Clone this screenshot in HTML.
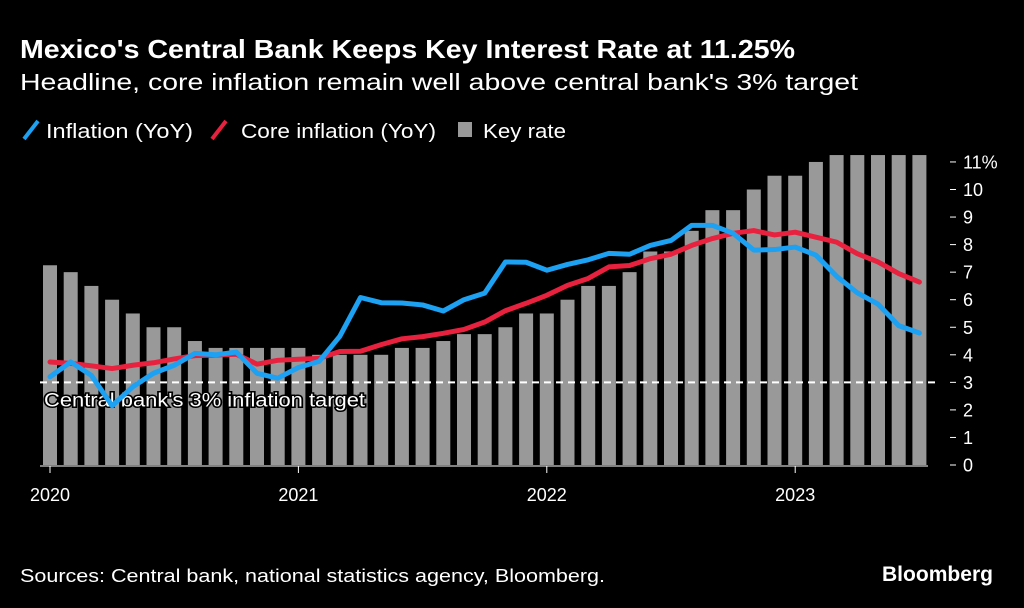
<!DOCTYPE html>
<html><head><meta charset="utf-8"><style>
html,body{margin:0;padding:0;background:#000;width:1024px;height:608px;overflow:hidden}
svg{display:block;font-family:"Liberation Sans",Arial,sans-serif}
</style></head><body>
<svg id="chart" width="1024" height="608" viewBox="0 0 1024 608">
<text x="20" y="58" fill="#fff" font-size="26" font-weight="bold" textLength="775" lengthAdjust="spacingAndGlyphs">Mexico's Central Bank Keeps Key Interest Rate at 11.25%</text>
<text x="20" y="90" fill="#fff" font-size="23" textLength="838" lengthAdjust="spacingAndGlyphs">Headline, core inflation remain well above central bank's 3% target</text>
<g>
<g><line x1="24" y1="139" x2="38" y2="121" stroke="#1da1f2" stroke-width="4"/><text x="46" y="138" fill="#fff" font-size="20" textLength="147" lengthAdjust="spacingAndGlyphs">Inflation (YoY)</text></g>
<g><line x1="212" y1="139" x2="226" y2="121" stroke="#e8213f" stroke-width="4"/><text x="241" y="138" fill="#fff" font-size="20" textLength="195" lengthAdjust="spacingAndGlyphs">Core inflation (YoY)</text></g>
<g><rect x="458" y="122" width="14" height="15" fill="#999"/><text x="483" y="138" fill="#fff" font-size="20" textLength="83" lengthAdjust="spacingAndGlyphs">Key rate</text></g>
</g>
<g id="plot"></g>
<text x="20" y="582" fill="#fff" font-size="18" textLength="585" lengthAdjust="spacingAndGlyphs">Sources: Central bank, national statistics agency, Bloomberg.</text>
<text x="882" y="581" fill="#fff" font-size="21" font-weight="bold" textLength="111" lengthAdjust="spacingAndGlyphs">Bloomberg</text>
</svg>
<script>
const keyRate=[7.25,7.0,6.5,6.0,5.5,5.0,5.0,4.5,4.25,4.25,4.25,4.25,
4.25,4.0,4.0,4.0,4.0,4.25,4.25,4.5,4.75,4.75,5.0,5.5,
5.5,6.0,6.5,6.5,7.0,7.75,7.75,8.5,9.25,9.25,10.0,10.5,
10.5,11.0,11.25,11.25,11.25,11.25,11.25];
const inflation=[3.2,3.74,3.25,2.15,2.84,3.33,3.62,4.05,4.0,4.1,3.33,3.15,
3.54,3.76,4.67,6.08,5.89,5.88,5.81,5.59,6.0,6.24,7.37,7.36,
7.07,7.28,7.45,7.68,7.65,7.97,8.15,8.7,8.7,8.41,7.8,7.82,
7.91,7.62,6.85,6.25,5.84,5.06,4.79];
const core=[3.74,3.69,3.6,3.5,3.62,3.71,3.85,3.97,3.99,4.02,3.66,3.8,
3.84,3.87,4.12,4.13,4.37,4.58,4.66,4.78,4.92,5.19,5.6,5.87,
6.16,6.52,6.77,7.19,7.24,7.49,7.65,7.97,8.22,8.41,8.51,8.35,
8.45,8.27,8.09,7.67,7.37,6.95,6.64];
const yTicks=[0,1,2,3,4,5,6,7,8,9,10,11];
const yearLabels=["2020","2021","2022","2023"];
const target=3;

const NS="http://www.w3.org/2000/svg";
const g=document.getElementById('plot');
const x=i=>50+i*20.7;
const y=v=>465-v*27.55;
function mk(t,a){const e=document.createElementNS(NS,t);for(const k in a)e.setAttribute(k,a[k]);g.appendChild(e);return e;}
keyRate.forEach((v,i)=>{
 const r=mk('rect',{x:x(i)-7,y:y(v),width:14,height:y(0)-y(v),fill:'#999'});
 
 
});
const tl=mk('line',{x1:40,x2:935,y1:y(target),y2:y(target),stroke:'#fff','stroke-width':2,'stroke-dasharray':'7,5'});


const tt=mk('text',{x:44,y:y(target)+24,fill:'#fff','font-size':19,stroke:'#000','stroke-width':3,'paint-order':'stroke',textLength:321,lengthAdjust:'spacingAndGlyphs'});
tt.textContent="Central bank's 3% inflation target";


function line(arr,col,name){
 const p=mk('polyline',{points:arr.map((v,i)=>x(i)+','+y(v)).join(' '),fill:'none',stroke:col,'stroke-width':5,'stroke-linejoin':'round','stroke-linecap':'round'});
 
 
}
line(core,'#e8213f','core-inflation-line');
line(inflation,'#1da1f2','inflation-line');
const ax=mk('line',{x1:40,x2:928,y1:466,y2:466,stroke:'#fff','stroke-width':1});


yearLabels.forEach((l,k)=>{
 const xx=x(k*12);
 const tk=mk('line',{x1:xx,x2:xx,y1:466,y2:473,stroke:'#fff','stroke-width':1});
 
 
 const t=mk('text',{x:xx,y:501,fill:'#fff','font-size':18,'text-anchor':'middle'});
 t.textContent=l;
 
 
});
yTicks.forEach(v=>{
 const tk=mk('line',{x1:950,x2:956,y1:y(v),y2:y(v),stroke:'#fff','stroke-width':1});
 
 
 const t=mk('text',{x:963,y:y(v)+6.5,fill:'#fff','font-size':18});
 t.textContent=v===11?'11%':String(v);
 
 
});
</script>
</body></html>
